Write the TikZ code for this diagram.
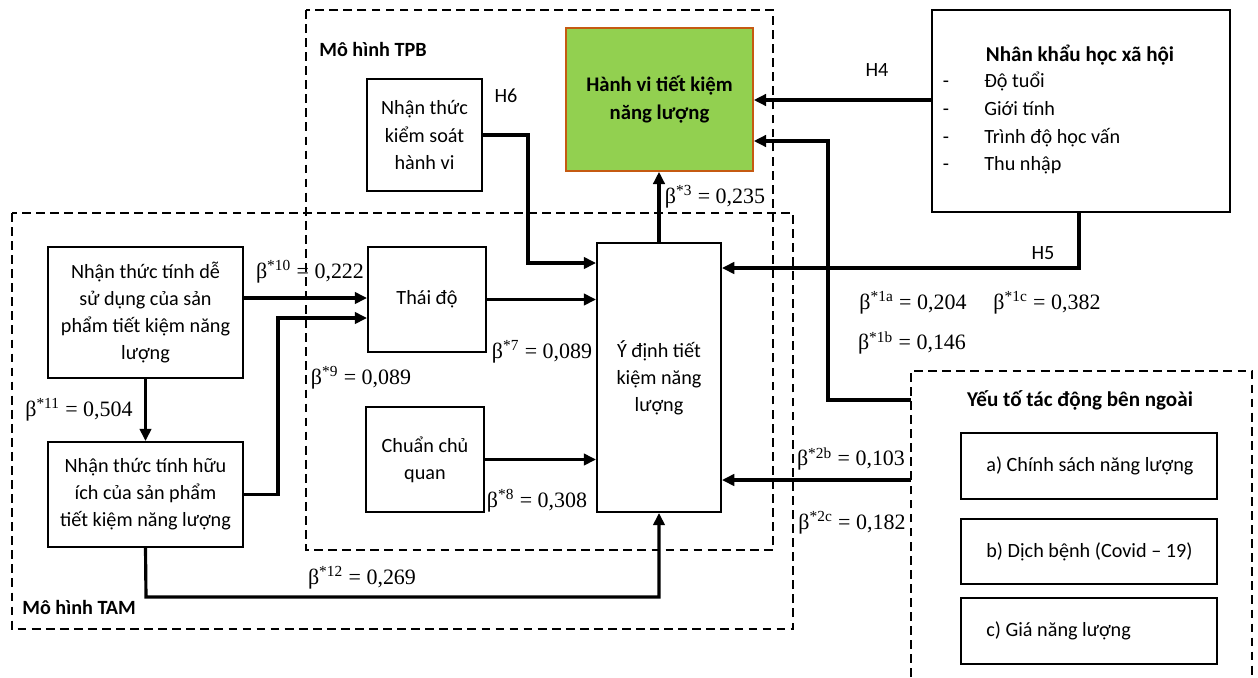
\documentclass[tikz,border=0pt]{standalone}
\usepackage{fontspec}
\setmainfont{Carlito}
\newfontfamily\tnr{Liberation Serif}
\usetikzlibrary{arrows.meta}
\definecolor{hvgreen}{HTML}{92D050}
\definecolor{hvborder}{HTML}{C55A11}
\newcommand{\bet}[2]{β\textsuperscript{*#1} = #2}
\begin{document}
\begin{tikzpicture}[x=0.02cm,y=-0.02cm,
  box/.style={draw,line width=1.1pt,align=center,inner sep=0pt,font=\fontsize{11.5}{15.4}\selectfont},
  conn/.style={line width=1.8pt,-{Triangle[length=7pt,width=6.5pt]}},
  dbox/.style={line width=1.1pt,dash pattern=on 5pt off 3pt},
  lab/.style={font=\tnr\fontsize{12.5}{15}\selectfont,inner sep=0pt},
  txt/.style={font=\fontsize{11.5}{15.4}\selectfont,inner sep=0pt},
  ltxt/.style={txt,text height=8pt,text depth=2.5pt},
  btxt/.style={font=\bfseries\fontsize{11.5}{15.4}\selectfont,inner sep=0pt},
]
\useasboundingbox (0,0) rectangle (1258,677);
% dashed frames
\draw[dbox] (306,10) rectangle (773,550);
\draw[dbox] (12,213) rectangle (793,629);
\draw[dbox] (911,677) -- (911,371) -- (1252,371) -- (1252,677);
\node[btxt,anchor=west] (tpb) at (319,49) {Mô hình TPB};
\node[btxt,anchor=west] (tam) at (22,607) {Mô hình TAM};

% boxes
\node[box,fill=hvgreen,draw=hvborder,line width=0.9pt,minimum width=3.74cm,minimum height=2.86cm,font=\bfseries\fontsize{11.8}{16}\selectfont] (hv) at (659.5,99.5) {Hành vi tiết kiệm\\năng lượng};
\node[box,minimum width=2.30cm,minimum height=2.24cm] (pbc) at (424.5,135) {Nhận thức\\kiểm soát\\hành vi};
\node[box,minimum width=2.48cm,minimum height=5.38cm] (yd) at (659,377.5) {Ý định tiết\\kiệm năng\\lượng};
\node[box,minimum width=2.36cm,minimum height=2.10cm] (td) at (427,299.5) {Thái độ};
\node[box,minimum width=2.36cm,minimum height=2.10cm] (cq) at (425,459.5) {Chuẩn chủ\\quan};
\node[box,minimum width=3.90cm,minimum height=2.62cm] (de) at (145.5,312.5) {Nhận thức tính dễ\\sử dụng của sản\\phẩm tiết kiệm năng\\lượng};
\node[box,minimum width=3.90cm,minimum height=2.10cm] (hi) at (145.5,494.5) {Nhận thức tính hữu\\ích của sản phẩm\\tiết kiệm năng lượng};
\node[box,minimum width=5.96cm,minimum height=4.04cm] (nk) at (1081,111) {};
\node[box,minimum width=5.12cm,minimum height=1.32cm] (ea) at (1089,466) {};
\node[box,minimum width=5.12cm,minimum height=1.30cm] (eb) at (1089,551.5) {};
\node[box,minimum width=5.12cm,minimum height=1.32cm] (ec) at (1089,631) {};

% texts in the right boxes
\node[btxt,font=\bfseries\fontsize{12}{15.4}\selectfont] (nkt) at (1080,55) {Nhân khẩu học xã hội};
\foreach \yy/\tt [count=\i] in {83/Độ tuổi,111/Giới tính,139/Trình độ học vấn,166/Thu nhập}{
  \node[ltxt] (nkd\i) at (946,\yy) {-};
  \node[ltxt,anchor=west] (nki\i) at (984,\yy) {\tt};
}
\node[btxt,font=\bfseries\fontsize{12}{15.4}\selectfont] (ext) at (1080,400) {Yếu tố tác động bên ngoài};
\node[txt,anchor=west] (eat) at (986,466) {a) Chính sách năng lượng};
\node[txt,anchor=west] (ebt) at (986,551.5) {b) Dịch bệnh (Covid – 19)};
\node[txt,anchor=west] (ect) at (986,631) {c) Giá năng lượng};

% hypothesis labels
\node[txt] (h6) at (506,96) {H6};
\node[txt] (h4) at (877,70) {H4};
\node[txt] (h5) at (1043,253) {H5};

% coordinates for bends
\coordinate (b1) at (528,135);
\coordinate (b2) at (528,263);
\coordinate (h4s) at (932,100);
\coordinate (h5a) at (1079,212);
\coordinate (h5b) at (1079,268);
\coordinate (e1) at (911,400);
\coordinate (e2) at (828,400);
\coordinate (e3) at (828,141);
\coordinate (e4) at (911,480);
\coordinate (d1) at (243,298);
\coordinate (u1) at (278,494.5);
\coordinate (u2) at (278,318);
\coordinate (v1) at (146,597);
\coordinate (v2) at (659,597);

% connectors
\draw[conn] (pbc.east) -- (b1) -- (b2) -- (b2 -| yd.west);
\draw[conn] (td.east) -- (td.east -| yd.west);
\draw[conn] (cq.east) -- (cq.east -| yd.west);
\draw[conn] (yd.north) -- (yd.north |- hv.south);
\draw[conn] (h4s) -- (h4s -| hv.east);
\draw[conn] (h5a) -- (h5b) -- (h5b -| yd.east);
\draw[conn] (e1) -- (e2) -- (e3) -- (e3 -| hv.east);
\draw[conn] (e4) -- (e4 -| yd.east);
\draw[conn] (d1) -- (d1 -| td.west);
\draw[conn] (hi.east) -- (u1) -- (u2) -- (u2 -| td.west);
\draw[conn] (de.south) -- (hi.north);
\draw[conn] (hi.south) -- (v1) -- (v2) -- (yd.south);

% beta labels
\node[lab] (l10) at (310,272) {\bet{10}{0,222}};
\node[lab] (l9) at (361,378) {\bet{9}{0,089}};
\node[lab] (l7) at (542,352) {\bet{7}{0,089}};
\node[lab] (l8) at (537,501) {\bet{8}{0,308}};
\node[lab] (l12) at (362,578) {\bet{12}{0,269}};
\node[lab] (l11) at (79,410) {\bet{11}{0,504}};
\node[lab] (l3) at (715,197) {\bet{3}{0,235}};
\node[lab] (l1a) at (913,303) {\bet{1a}{0,204}};
\node[lab] (l1c) at (1047,303) {\bet{1c}{0,382}};
\node[lab] (l1b) at (912,343) {\bet{1b}{0,146}};
\node[lab] (l2b) at (851,459) {\bet{2b}{0,103}};
\node[lab] (l2c) at (852,523) {\bet{2c}{0,182}};
\end{tikzpicture}
\end{document}
